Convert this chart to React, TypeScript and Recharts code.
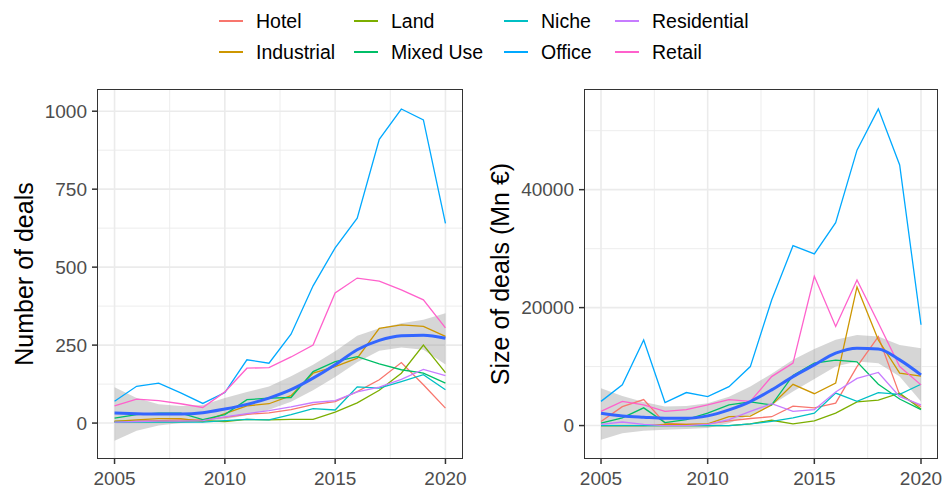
import { ComposedChart, Line, Area, XAxis, YAxis, CartesianGrid } from 'recharts';

// years on the x axis
const years = [2005, 2006, 2007, 2008, 2009, 2010, 2011, 2012, 2013, 2014, 2015, 2016, 2017, 2018, 2019, 2020];

const sectors = ['Hotel', 'Industrial', 'Land', 'Mixed Use', 'Niche', 'Office', 'Residential', 'Retail'];
const sectorColors = ['#F8766D', '#CD9600', '#7CAE00', '#00BE67', '#00BFC4', '#00A9FF', '#C77CFF', '#FF61CC'];

// number of deals per sector
const hotelCount = [5, 6, 8, 10, 10, 18, 28, 33, 43, 59, 69, 101, 139, 194, 123, 48];
const industrialCount = [5, 10, 14, 14, 5, 30, 55, 62, 88, 160, 181, 208, 304, 315, 310, 278];
const landCount = [5, 5, 5, 5, 8, 5, 12, 10, 12, 12, 35, 65, 105, 160, 250, 162];
const mixedUseCount = [16, 27, 32, 32, 11, 27, 75, 80, 82, 165, 197, 213, 190, 171, 160, 128];
const nicheCount = [2, 3, 3, 3, 3, 8, 12, 10, 27, 46, 42, 116, 112, 133, 155, 107];
const officeCount = [70, 118, 128, 97, 63, 98, 203, 192, 285, 440, 562, 657, 910, 1007, 972, 640];
const residentialCount = [3, 5, 6, 6, 8, 20, 30, 40, 52, 66, 72, 100, 115, 140, 172, 152];
const retailCount = [55, 77, 72, 62, 50, 100, 176, 178, 212, 250, 417, 465, 455, 427, 395, 305];

// loess smooth + confidence band, number of deals
const countSmooth = [32, 30, 29, 29, 33, 45, 60, 80, 107, 144, 187, 235, 265, 280, 282, 272];
const countUpper = [115, 80, 60, 55, 58, 80, 100, 117, 150, 187, 230, 280, 304, 320, 331, 352];
const countLower = [-57, -25, -8, 0, 5, 12, 25, 43, 68, 105, 148, 195, 232, 242, 235, 188];

// size of deals (Mn €) per sector
const hotelSize = [680, 3200, 4400, 400, 200, 300, 800, 1200, 1500, 3300, 3000, 3800, 10000, 15100, 5200, 3200];
const industrialSize = [0, 0, 0, 200, 200, 300, 1500, 1600, 3500, 7000, 5400, 7200, 23500, 14500, 8900, 8400];
const landSize = [0, 0, 0, 0, 0, 0, 0, 300, 900, 300, 800, 2100, 4000, 4300, 5500, 2800];
const mixedUseSize = [400, 1300, 3000, 500, 1000, 2100, 3500, 4000, 3500, 8500, 10600, 11100, 10800, 7000, 4500, 2700];
const nicheSize = [0, 0, 0, 0, 0, 0, 0, 300, 700, 1300, 2100, 5500, 4100, 5600, 5300, 7000];
const officeSize = [4100, 6900, 14500, 3900, 5600, 4900, 6600, 10000, 21300, 30500, 29100, 34400, 46700, 53700, 44200, 17100];
const residentialSize = [200, 600, 200, 0, 0, 200, 1000, 2400, 3700, 2400, 2700, 5700, 8000, 9000, 4900, 3500];
const retailSize = [2400, 4100, 3500, 2400, 2700, 3500, 4400, 4100, 8300, 10600, 25300, 16800, 24700, 17400, 10000, 6900];

const sizeSmooth = [2100, 1640, 1410, 1240, 1240, 1640, 2660, 4070, 6050, 8300, 10290, 12270, 13120, 13000, 11140, 8590];
const sizeUpper = [6340, 5000, 4000, 3220, 3300, 3800, 4900, 6610, 8800, 11140, 13000, 14530, 15370, 15090, 13680, 13120];
const sizeLower = [-2420, -1300, -900, -700, -600, -400, 400, 1810, 3500, 5760, 7900, 10000, 10850, 10580, 8300, 4070];

const countSeries = [hotelCount, industrialCount, landCount, mixedUseCount, nicheCount, officeCount, residentialCount, retailCount];
const sizeSeries = [hotelSize, industrialSize, landSize, mixedUseSize, nicheSize, officeSize, residentialSize, retailSize];

function buildRows(series: number[][], smooth: number[], lower: number[], upper: number[]) {
  return years.map((year, i) => {
    const row: Record<string, any> = { year, smooth: smooth[i], band: [lower[i], upper[i]] };
    sectors.forEach((s, j) => {
      row[s] = series[j][i];
    });
    return row;
  });
}

const countRows = buildRows(countSeries, countSmooth, countLower, countUpper);
const sizeRows = buildRows(sizeSeries, sizeSmooth, sizeLower, sizeUpper);

const FONT = '"Liberation Sans", Arial, sans-serif';
const X_DOMAIN = [2004.25, 2020.75];

type PanelProps = {
  rows: Record<string, any>[];
  left: number;
  width: number;
  yAxisWidth: number;
  marginRight: number;
  yDomain: number[];
  yTicks: number[];
  yMinor: number[];
  title: string;
  titleX: number;
};

function Panel({ rows, left, width, yAxisWidth, marginRight, yDomain, yTicks, yMinor, title, titleX }: PanelProps) {
  const plotLeft = left + yAxisWidth;
  const plotRight = left + width - marginRight;
  return (
    <>
      <div style={{ position: 'absolute', left, top: 0 }}>
        <ComposedChart width={width} height={490} data={rows} margin={{ top: 90, right: marginRight, bottom: 0, left: 0 }}>
          <CartesianGrid
            stroke="#ebebeb"
            strokeWidth={0.9}
            fill="none"
            horizontalValues={yMinor}
            verticalValues={[2007.5, 2012.5, 2017.5]}
          />
          <CartesianGrid
            stroke="#ebebeb"
            strokeWidth={1.6}
            fill="none"
            horizontalValues={yTicks}
            verticalValues={[2005, 2010, 2015, 2020]}
          />
          <XAxis
            dataKey="year"
            type="number"
            domain={X_DOMAIN}
            ticks={[2005, 2010, 2015, 2020]}
            allowDataOverflow
            height={32}
            axisLine={false}
            tickSize={6}
            tickMargin={8}
            tickLine={{ stroke: '#333333', strokeWidth: 1.5 }}
            tick={{ fill: '#4d4d4d', fontSize: 19, fontFamily: FONT }}
          />
          <YAxis
            type="number"
            domain={yDomain}
            ticks={yTicks}
            allowDataOverflow
            width={yAxisWidth}
            axisLine={false}
            tickSize={6}
            tickMargin={5}
            tickLine={{ stroke: '#333333', strokeWidth: 1.5 }}
            tick={{ fill: '#4d4d4d', fontSize: 19, fontFamily: FONT }}
          />
          {sectors.map((s, j) => (
            <Line
              key={s}
              dataKey={s}
              stroke={sectorColors[j]}
              strokeWidth={1.3}
              dot={false}
              activeDot={false}
              isAnimationActive={false}
            />
          ))}
          <Area dataKey="band" stroke="none" fill="#999999" fillOpacity={0.4} isAnimationActive={false} />
          <Line
            dataKey="smooth"
            type="monotone"
            stroke="#3366FF"
            strokeWidth={3}
            dot={false}
            activeDot={false}
            isAnimationActive={false}
          />
        </ComposedChart>
      </div>
      {/* panel frame */}
      <div
        style={{
          position: 'absolute',
          left: plotLeft - 0.75,
          top: 89.25,
          width: plotRight - plotLeft,
          height: 368,
          border: '1.5px solid #333333',
          pointerEvents: 'none',
        }}
      />
      <div
        style={{
          position: 'absolute',
          left: titleX - 200,
          top: 274 - 15,
          width: 400,
          height: 30,
          lineHeight: '30px',
          textAlign: 'center',
          fontSize: 25,
          color: '#000',
          transform: 'rotate(-90deg)',
          whiteSpace: 'nowrap',
        }}
      >
        {title}
      </div>
    </>
  );
}

const legendCols = [217, 352, 502, 613];
const legendRows = [21, 52];

function Legend() {
  return (
    <>
      {sectors.map((s, j) => {
        const col = Math.floor(j / 2);
        const row = j % 2;
        const x = legendCols[col];
        const y = legendRows[row];
        return (
          <div key={s}>
            <div
              style={{
                position: 'absolute',
                left: x + 2,
                top: y - 0.75,
                width: 24,
                height: 1.5,
                background: sectorColors[j],
              }}
            />
            <div
              style={{
                position: 'absolute',
                left: x + 39,
                top: y - 12,
                height: 24,
                lineHeight: '24px',
                fontSize: 19.5,
                color: '#000',
                whiteSpace: 'nowrap',
              }}
            >
              {s}
            </div>
          </div>
        );
      })}
    </>
  );
}

export default function App() {
  return (
    <div
      style={{
        position: 'absolute',
        left: 0,
        top: 0,
        width: 944,
        height: 490,
        background: '#fff',
        overflow: 'hidden',
        fontFamily: FONT,
      }}
    >
      <Legend />
      <Panel
        rows={countRows}
        left={0}
        width={470}
        yAxisWidth={98}
        marginRight={8}
        yDomain={[-112, 1068]}
        yTicks={[0, 250, 500, 750, 1000]}
        yMinor={[125, 375, 625, 875]}
        title="Number of deals"
        titleX={24}
      />
      <Panel
        rows={sizeRows}
        left={470}
        width={474}
        yAxisWidth={115}
        marginRight={7}
        yDomain={[-5500, 56900]}
        yTicks={[0, 20000, 40000]}
        yMinor={[10000, 30000, 50000]}
        title="Size of deals (Mn €)"
        titleX={500}
      />
    </div>
  );
}
